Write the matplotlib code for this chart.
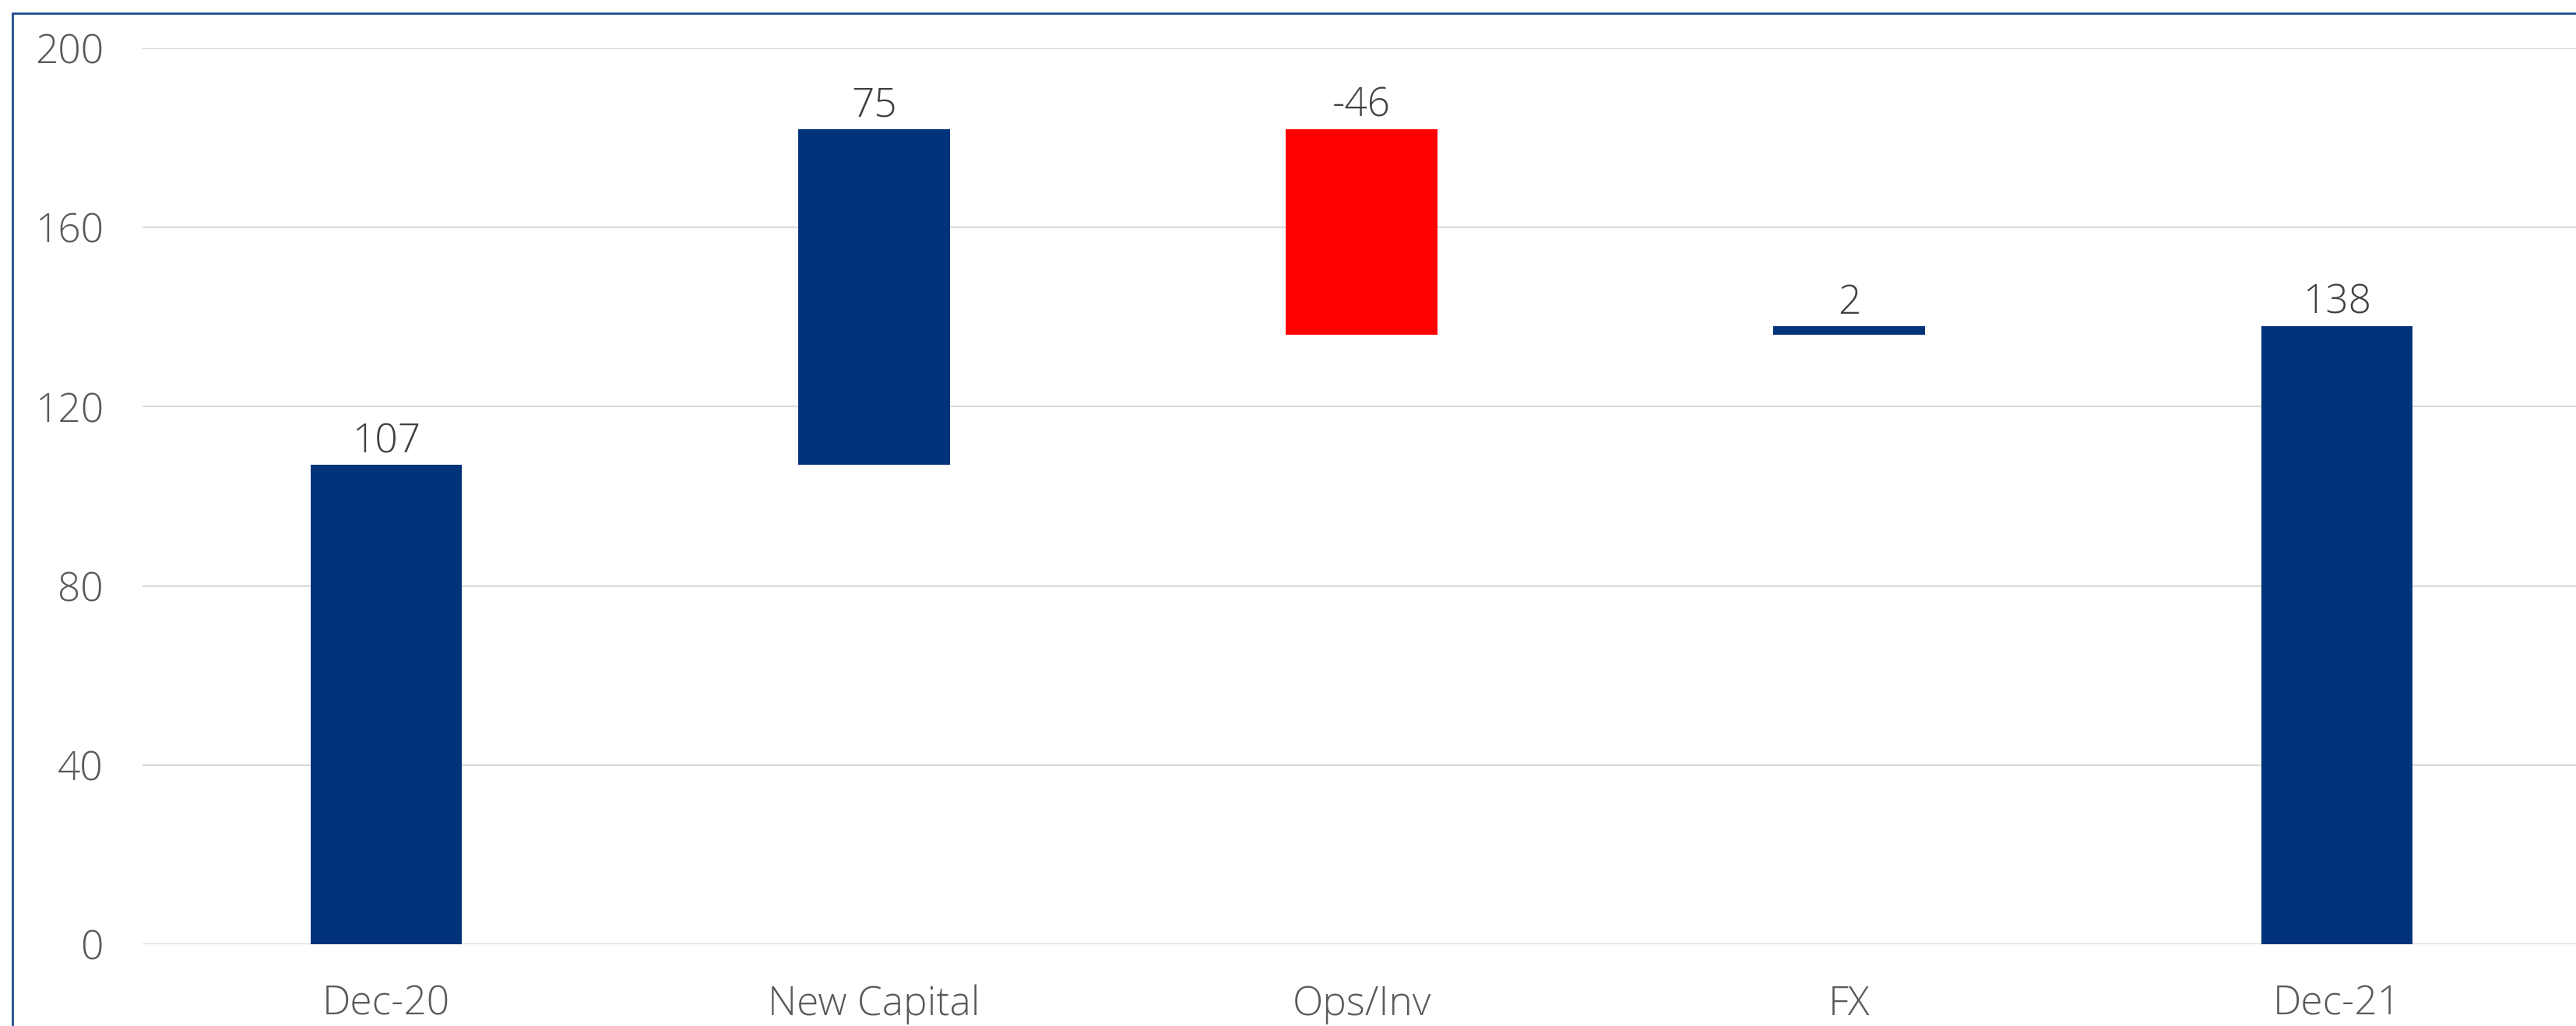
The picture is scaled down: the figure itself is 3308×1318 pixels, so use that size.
import matplotlib
matplotlib.use("Agg")

import matplotlib.pyplot as plt
from matplotlib.patches import Rectangle

categories = ["Dec-20", "New Capital", "Ops/Inv", "FX", "Dec-21"]
changes = [107, 75, -46, 2, 138]
is_total = [True, False, False, False, True]
y_ticks = [0, 40, 80, 120, 160, 200]

NAVY = "#00337A"
RED = "#FF0000"

plt.rcParams["font.family"] = ["Open Sans", "DejaVu Sans"]
plt.rcParams["font.weight"] = "light"

fig = plt.figure(figsize=(33.08, 13.18), dpi=100)
fig.patch.set_facecolor("white")

W, H = 3308, 1318
ax = fig.add_axes([183 / W, (H - 1213) / H, (3314 - 183) / W, (1213 - 62) / H])

# waterfall: running level, totals start from zero
bottoms, heights, colors = [], [], []
level = 0
for val, total in zip(changes, is_total):
    if total:
        bottoms.append(0)
        heights.append(val)
        level = val
    else:
        bottoms.append(min(level, level + val))
        heights.append(abs(val))
        level += val
    colors.append(RED if val < 0 else NAVY)

x = range(len(categories))
ax.bar(x, heights, bottom=bottoms, width=0.311, color=colors, zorder=3)

for xi, b, h, val in zip(x, bottoms, heights, changes):
    ax.annotate(str(val), (xi, b + h), xytext=(0, 3), textcoords="offset points",
                ha="center", va="bottom", fontsize=37, color="#404040")

ax.set_xlim(-0.5, 4.5)
ax.set_ylim(0, 200)
ax.set_yticks(y_ticks)
ax.set_xticks(list(x))
ax.set_xticklabels(categories)
ax.tick_params(axis="both", length=0, labelsize=37, labelcolor="#595959")
ax.tick_params(axis="y", pad=36)
ax.tick_params(axis="x", pad=37)
ax.grid(axis="y", color="#D9D9D9", linewidth=1.5, zorder=0)
ax.set_axisbelow(True)
for side in ["top", "right", "left", "bottom"]:
    ax.spines[side].set_visible(False)

# outer frame, running off the right and bottom edges
fig.patches.append(Rectangle((16 / W, -0.1), 1.2, (H - 17) / H + 0.1,
                             transform=fig.transFigure, fill=False,
                             edgecolor="#1F4E91", linewidth=2))

fig.savefig("out.png", dpi=100, facecolor=fig.get_facecolor())
